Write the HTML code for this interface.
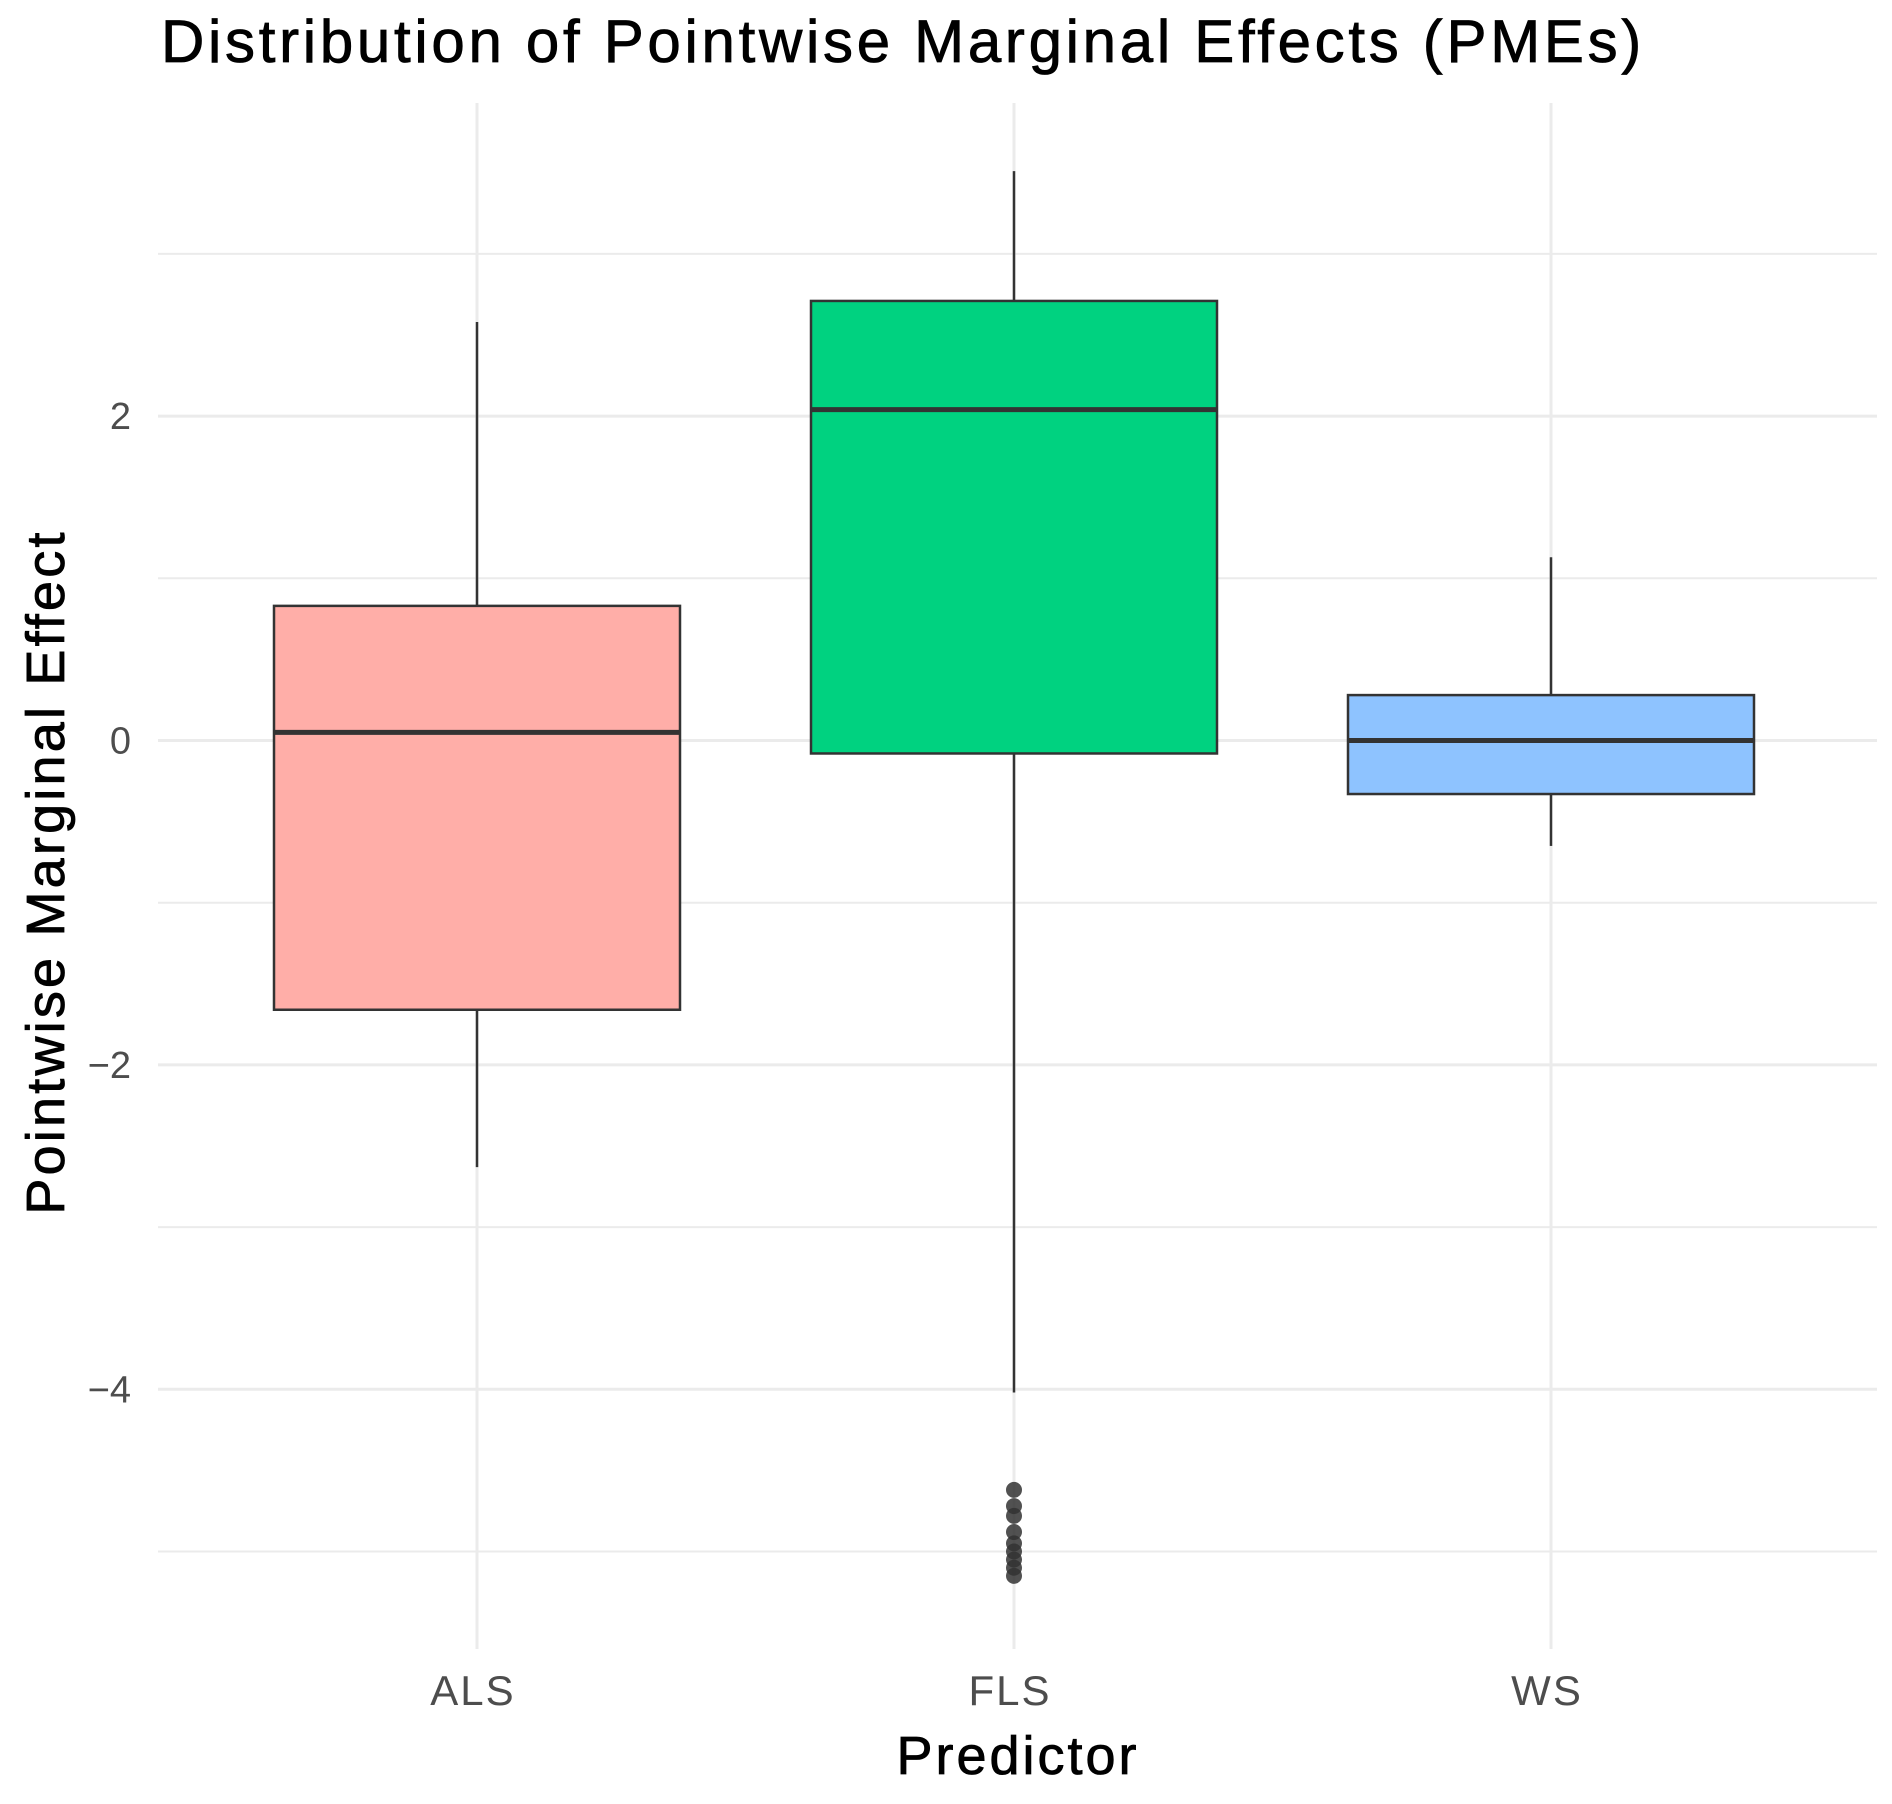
<!DOCTYPE html>
<html><head><meta charset="utf-8"><style>
html,body{margin:0;padding:0;background:#fff;}
svg{display:block;font-family:"Liberation Sans",sans-serif;}
</style></head><body>
<svg id="chart" width="1892" height="1804" viewBox="0 0 1892 1804">
<text x="161" y="62" font-size="60" letter-spacing="3.7" fill="#000" stroke="#000" stroke-width="0.8">Distribution of Pointwise Marginal Effects (PMEs)</text>
<g id="grid"></g>
<g id="yticks"></g>
<g id="xticks"></g>
<g id="boxes"></g>
<text x="1018" y="1774" font-size="54" letter-spacing="3" text-anchor="middle" fill="#000" stroke="#000" stroke-width="0.8">Predictor</text>
<text transform="translate(64,872) rotate(-90)" font-size="54" letter-spacing="3.2" text-anchor="middle" fill="#000" stroke="#000" stroke-width="0.8">Pointwise Marginal Effect</text>
</svg>
<script>
const categories = ["ALS", "FLS", "WS"];
const whiskerLow = [-2.63, -4.02, -0.65];
const q1 = [-1.66, -0.08, -0.33];
const median = [0.05, 2.04, 0.0];
const q3 = [0.83, 2.71, 0.28];
const whiskerHigh = [2.58, 3.51, 1.13];
const outliersFLS = [-4.62, -4.72, -4.78, -4.88, -4.95, -5.0, -5.05, -5.1, -5.15];
const yTickValues = [-4, -2, 0, 2];
const yTickLabels = ["\u22124", "\u22122", "0", "2"];
const yMinorValues = [-5, -3, -1, 1, 3];
const fills = ["#ffaea8", "#00d280", "#8ec3ff"];

const NS = "http://www.w3.org/2000/svg";
const plotL = 158, plotR = 1877, plotT = 103, plotB = 1649;
function y(v){ return 740.5 - v * 162.2; }
function x(i){ return 477 + i * 537; }
const halfW = 203;
function mk(tag, attrs, parent){ const e = document.createElementNS(NS, tag); for (const k in attrs) e.setAttribute(k, attrs[k]); parent.appendChild(e); return e; }

const grid = document.getElementById("grid");
yMinorValues.forEach(v => {
  const l = mk("line", {x1: plotL, x2: plotR, y1: y(v), y2: y(v), stroke: "#ebebeb", "stroke-width": 2}, grid);
  
  
});
yTickValues.forEach(v => {
  const l = mk("line", {x1: plotL, x2: plotR, y1: y(v), y2: y(v), stroke: "#ebebeb", "stroke-width": 3}, grid);
  
  
});
categories.forEach((c, i) => {
  const l = mk("line", {x1: x(i), x2: x(i), y1: plotT, y2: plotB, stroke: "#ebebeb", "stroke-width": 3}, grid);
  
  
});

const yt = document.getElementById("yticks");
yTickValues.forEach((v, i) => {
  const t = mk("text", {x: 131, y: y(v) + 13, "font-size": 38, "text-anchor": "end", fill: "#4d4d4d"}, yt);
  t.textContent = yTickLabels[i];
  
  
});
const xt = document.getElementById("xticks");
categories.forEach((c, i) => {
  const t = mk("text", {x: x(i) - 4, y: 1705, "font-size": 42, "letter-spacing": 2, "text-anchor": "middle", fill: "#4d4d4d"}, xt);
  t.textContent = c;
  
  
});

const bx = document.getElementById("boxes");
categories.forEach((c, i) => {
  const g = mk("g", {}, bx);
  
  
  const w1 = mk("line", {x1: x(i), x2: x(i), y1: y(whiskerHigh[i]), y2: y(q3[i]), stroke: "#333", "stroke-width": 2.5}, g);
  
  
  const w2 = mk("line", {x1: x(i), x2: x(i), y1: y(q1[i]), y2: y(whiskerLow[i]), stroke: "#333", "stroke-width": 2.5}, g);
  
  
  const r = mk("rect", {x: x(i) - halfW, y: y(q3[i]), width: 2 * halfW, height: y(q1[i]) - y(q3[i]), fill: fills[i], stroke: "#333", "stroke-width": 2.5}, g);
  
  
  const m = mk("line", {x1: x(i) - halfW, x2: x(i) + halfW, y1: y(median[i]), y2: y(median[i]), stroke: "#333", "stroke-width": 5}, g);
  
  
});
outliersFLS.forEach(v => {
  const p = mk("circle", {cx: x(1), cy: y(v), r: 8, fill: "#333", "fill-opacity": 0.85}, bx);
  
  
});
</script>
</body></html>
